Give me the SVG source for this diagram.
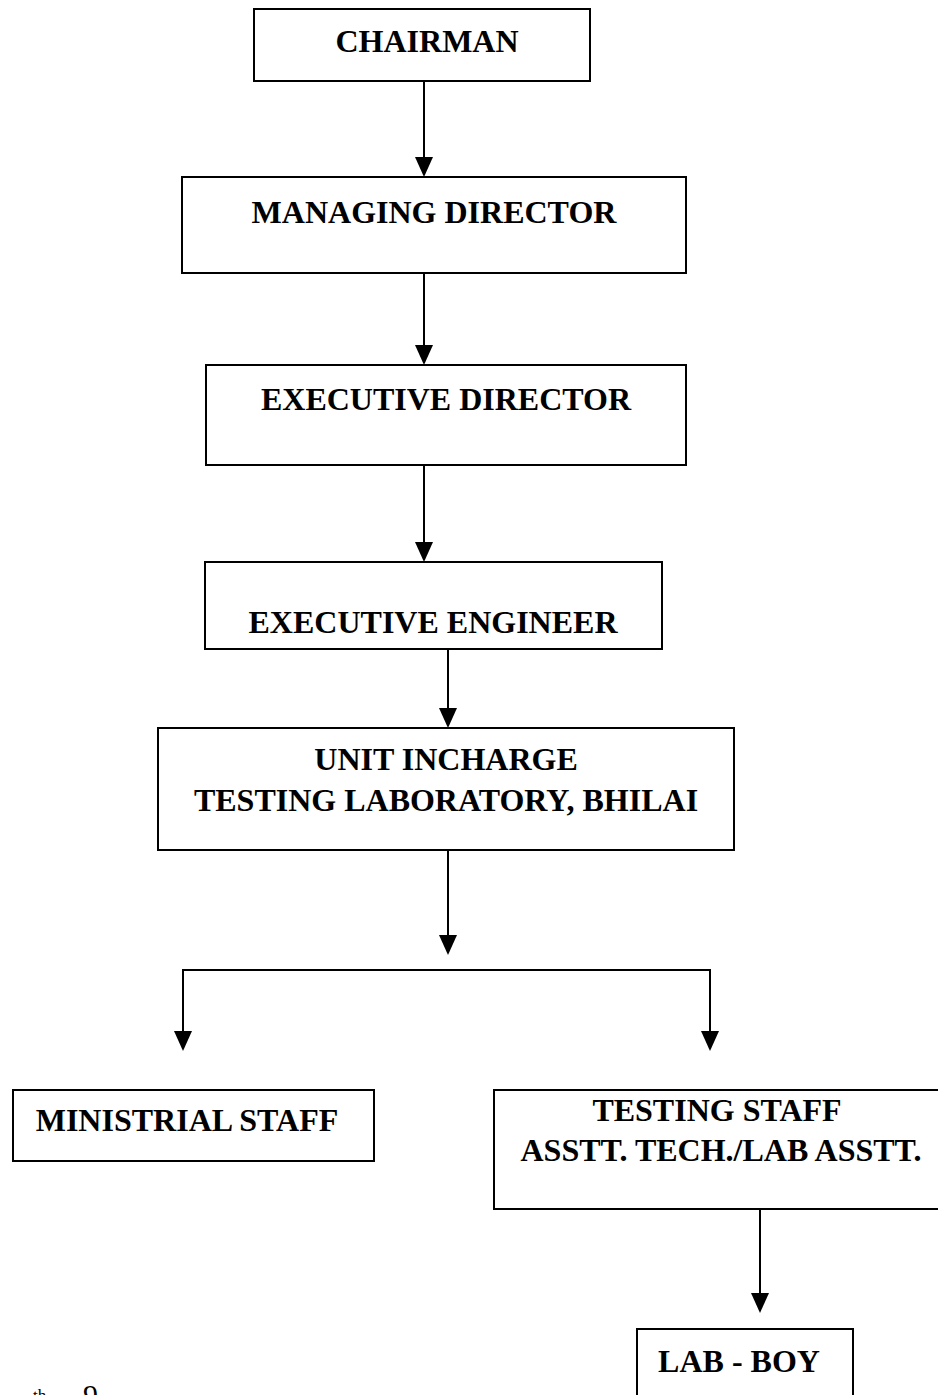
<svg xmlns="http://www.w3.org/2000/svg" width="938" height="1395" viewBox="0 0 938 1395">
<defs>
<style>
.box{fill:#fff;stroke:#000;stroke-width:2}
.t{font-family:"Liberation Serif","Times New Roman",serif;font-weight:bold;font-size:32px;fill:#000;text-anchor:middle}
.ln{stroke:#000;stroke-width:2;fill:none}
.ft{font-family:"Liberation Serif","Times New Roman",serif;fill:#000}
</style>
</defs>
<rect width="938" height="1395" fill="#fff"/>
<g id="connectors">
<line class="ln" x1="424" y1="81" x2="424" y2="158"/>
<path d="M415,157 L433,157 L424,177 Z"/>
<line class="ln" x1="424" y1="273" x2="424" y2="346"/>
<path d="M415,345 L433,345 L424,365 Z"/>
<line class="ln" x1="424" y1="465" x2="424" y2="543"/>
<path d="M415,542 L433,542 L424,562 Z"/>
<line class="ln" x1="448" y1="649" x2="448" y2="709"/>
<path d="M439,708 L457,708 L448,728 Z"/>
<line class="ln" x1="448" y1="850" x2="448" y2="936"/>
<path d="M439,935 L457,935 L448,955 Z"/>
<polyline class="ln" points="183,1032 183,970 710,970 710,1032"/>
<path d="M174,1031 L192,1031 L183,1051 Z"/>
<path d="M701,1031 L719,1031 L710,1051 Z"/>
<line class="ln" x1="760" y1="1209" x2="760" y2="1294"/>
<path d="M751,1293 L769,1293 L760,1313 Z"/>
</g>
<g id="chairman">
<rect class="box" x="254" y="9" width="336" height="72"/>
<text class="t" x="427" y="52">CHAIRMAN</text>
</g>
<g id="managing-director">
<rect class="box" x="182" y="177" width="504" height="96"/>
<text class="t" x="434" y="223">MANAGING DIRECTOR</text>
</g>
<g id="executive-director">
<rect class="box" x="206" y="365" width="480" height="100"/>
<text class="t" x="446" y="410">EXECUTIVE DIRECTOR</text>
</g>
<g id="executive-engineer">
<rect class="box" x="205" y="562" width="457" height="87"/>
<text class="t" x="433" y="633">EXECUTIVE ENGINEER</text>
</g>
<g id="unit-incharge">
<rect class="box" x="158" y="728" width="576" height="122"/>
<text class="t" x="446" y="770">UNIT INCHARGE</text>
<text class="t" x="446" y="811">TESTING LABORATORY, BHILAI</text>
</g>
<g id="ministrial-staff">
<rect class="box" x="13" y="1090" width="361" height="71"/>
<text class="t" x="187" y="1131">MINISTRIAL STAFF</text>
</g>
<g id="testing-staff">
<rect class="box" x="494" y="1090" width="460" height="119"/>
<text class="t" x="717" y="1121">TESTING STAFF</text>
<text class="t" x="721" y="1161">ASSTT. TECH./LAB ASSTT.</text>
</g>
<g id="lab-boy">
<rect class="box" x="637" y="1329" width="216" height="80"/>
<text class="t" x="739" y="1372">LAB - BOY</text>
</g>
<text class="ft" x="33" y="1401" font-size="17">th</text>
<text class="ft" x="83" y="1405" font-size="30">9</text>
</svg>
